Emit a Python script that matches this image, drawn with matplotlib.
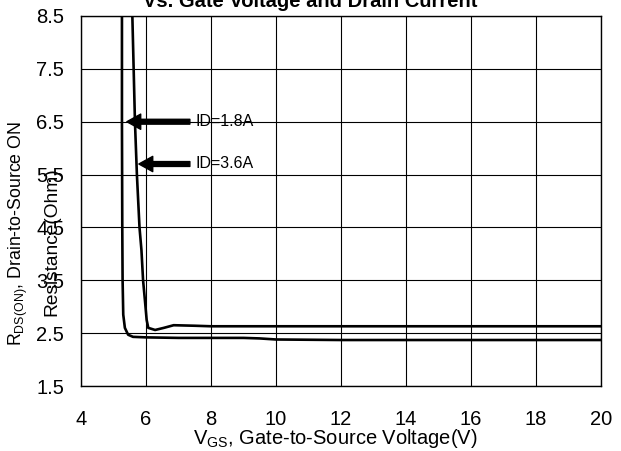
import matplotlib
matplotlib.use('Agg')
import matplotlib.pyplot as plt

plt.rcParams['font.family'] = ['Liberation Sans', 'DejaVu Sans']

# ID = 1.8 A curve
vgs_18 = [5.26, 5.26, 5.27, 5.28, 5.30, 5.35, 5.45, 5.6, 6.0, 7.0, 8.0, 9.0, 9.5, 10.0, 12.0, 15.0, 20.0]
rds_18 = [8.5, 6.5, 4.5, 3.5, 2.85, 2.6, 2.47, 2.43, 2.42, 2.41, 2.41, 2.41, 2.40, 2.38, 2.37, 2.37, 2.37]

# ID = 3.6 A curve
vgs_36 = [5.58, 5.62, 5.66, 5.72, 5.80, 5.86, 5.91, 5.97, 6.02, 6.07, 6.28, 6.55, 6.85, 7.5, 8.0, 10.0, 20.0]
rds_36 = [8.5, 7.5, 6.5, 5.5, 4.5, 4.07, 3.5, 3.1, 2.75, 2.6, 2.56, 2.6, 2.65, 2.64, 2.63, 2.63, 2.63]

x_ticks = [4, 6, 8, 10, 12, 14, 16, 18, 20]
y_ticks = [1.5, 2.5, 3.5, 4.5, 5.5, 6.5, 7.5, 8.5]

# annotation arrows: (label, arrow tip x, y, tail x)
labels = ['ID=1.8A', 'ID=3.6A']
tip_x = [5.41, 5.78]
tip_y = [6.5, 5.7]
tail_x = [7.35, 7.35]

fig = plt.figure(figsize=(6.21, 4.51), dpi=100)
ax = fig.add_axes([81 / 621, 1 - 386 / 451, 520 / 621, 370 / 451])

ax.plot(vgs_18, rds_18, color='black', lw=1.9, solid_joinstyle='round')
ax.plot(vgs_36, rds_36, color='black', lw=1.9, solid_joinstyle='round')

for lab, tx, ty, sx in zip(labels, tip_x, tip_y, tail_x):
    ax.annotate('', xy=(tx, ty), xytext=(sx, ty),
                arrowprops=dict(facecolor='black', edgecolor='black',
                                width=3.5, headwidth=11, headlength=10, shrink=0))
    ax.text(sx + 0.18, ty, lab, fontsize=11.5, va='center', ha='left')

ax.set_xlim(4, 20)
ax.set_ylim(1.5, 8.5)
ax.set_xticks(x_ticks)
ax.set_yticks(y_ticks)
ax.set_xticklabels([str(v) for v in x_ticks])
ax.set_yticklabels([str(v) for v in y_ticks])
ax.tick_params(length=0, labelsize=14.5)
ax.tick_params(axis='y', pad=12)
ax.tick_params(axis='x', pad=17)
ax.grid(True, color='black', lw=0.8)
for sp in ax.spines.values():
    sp.set_color('black')
    sp.set_linewidth(1.0)

fig.text(18 / 621, 1 - 233 / 451, r'R$_{\mathregular{DS(ON)}}$, Drain-to-Source ON',
         rotation=90, fontsize=12.8, ha='center', va='center')
fig.text(52 / 621, 1 - 242 / 451, 'Resistance(Ohm)',
         rotation=90, fontsize=13.8, ha='center', va='center')
fig.text(335 / 621, 1 - 438 / 451, r'V$_{\mathregular{GS}}$, Gate-to-Source Voltage(V)',
         fontsize=14.5, ha='center', va='center')
fig.text(310 / 621, 1 - 7 / 451, 'Vs. Gate Voltage and Drain Current',
         fontsize=14.5, fontweight='bold', ha='center', va='baseline')

fig.savefig('out.png', dpi=100)
